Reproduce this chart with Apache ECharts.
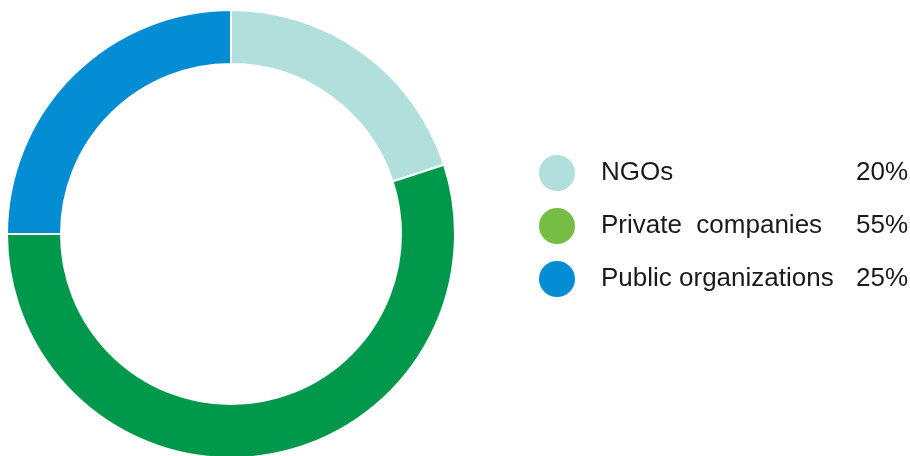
<!DOCTYPE html>
<html>
<head>
<meta charset="utf-8">
<script src="https://cdn.jsdelivr.net/npm/echarts@6/dist/echarts.min.js"></script>
<style>
html,body{margin:0;padding:0;background:#fff;}
#chart{width:910px;height:456px;}
</style>
</head>
<body>
<div id="chart"></div>
<script>
var categories = ['NGOs', 'Private  companies', 'Public organizations'];
var values = [20, 55, 25];
var sliceColors = ['#b1dfdb', '#00984a', '#058dd3'];
var legendColors = ['#b1dfdb', '#76bd43', '#058dd3'];

var chart = echarts.init(document.getElementById('chart'), null, {renderer: 'canvas'});
var pieData = categories.map(function (c, i) {
  return {name: c, value: values[i], itemStyle: {color: sliceColors[i]}};
});
var legendData = categories.map(function (c, i) {
  return {name: c, itemStyle: {color: legendColors[i]}};
});
chart.setOption({
  animation: false,
  backgroundColor: '#ffffff',
  legend: {
    orient: 'vertical',
    left: 537,
    top: 153,
    padding: 0,
    itemWidth: 38,
    itemHeight: 38,
    itemGap: 13,
    icon: 'circle',
    data: legendData,
    selectedMode: false,
    formatter: function (name) {
      var i = categories.indexOf(name);
      return '{g|}{n|' + name + '}{p|' + values[i] + '%}';
    },
    textStyle: {
      fontFamily: 'Liberation Sans, Arial, sans-serif',
      fontSize: 26,
      color: '#1a1a1a',
      rich: {
        g: {width: 20, fontSize: 26, lineHeight: 38},
        n: {width: 255, fontSize: 26, lineHeight: 38, color: '#1a1a1a', fontFamily: 'Liberation Sans, Arial, sans-serif'},
        p: {width: 52, align: 'right', fontSize: 26, lineHeight: 38, color: '#1a1a1a', fontFamily: 'Liberation Sans, Arial, sans-serif'}
      }
    }
  },
  series: [{
    type: 'pie',
    center: [231, 234],
    radius: [170, 224],
    startAngle: 90,
    clockwise: true,
    label: {show: false},
    labelLine: {show: false},
    emphasis: {disabled: true},
    itemStyle: {borderColor: '#ffffff', borderWidth: 2},
    data: pieData
  }]
});
</script>
</body>
</html>
